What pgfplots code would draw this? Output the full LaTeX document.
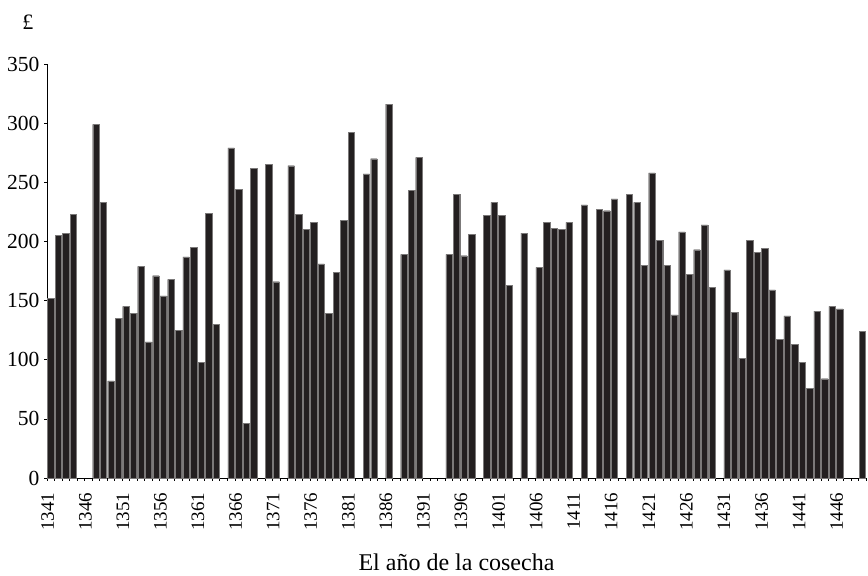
\documentclass[border=0pt]{standalone}
\usepackage{fontspec}
\setmainfont{Liberation Serif}
\usepackage{pgfplots}
\pgfplotsset{compat=1.18}
\definecolor{barc}{HTML}{231F20}
\begin{document}
\begin{tikzpicture}
\begin{axis}[
  scale only axis,
  width=819pt, height=414pt,
  xmin=1340.5, xmax=1449.5,
  ymin=0, ymax=350,
  axis lines=left,
  axis line style={-, line width=0.8pt, black},
  ytick={0,50,...,350},
  xtick={1341,1346,...,1446},
  minor xtick={1340.5,1341.5,...,1449.5},
  tick align=outside,
  tick style={black, line width=0.6pt},
  major tick length=3pt,
  minor tick length=3pt,
  major x tick style={draw=none},
  /pgf/number format/assume math mode=true,
  /pgf/number format/1000 sep={},
  yticklabel style={font=\fontsize{21.5}{21.5}\selectfont, xshift=-1pt},
  xticklabel style={rotate=90, anchor=east, font=\fontsize{19}{19}\selectfont, xshift=-8pt, yshift=3pt},
  xlabel={El año de la cosecha},
  xlabel style={font=\fontsize{24}{24}\selectfont, yshift=-16pt},
  clip=false,
]
\addplot[ybar, bar width=0.86, fill=barc, draw=barc!60, line width=0.2pt] coordinates {
(1341,152) (1342,205) (1343,207) (1344,223)
(1347,299) (1348,233) (1349,82) (1350,135) (1351,145) (1352,139) (1353,179) (1354,115)
(1355,171) (1356,154) (1357,168) (1358,125) (1359,187) (1360,195) (1361,98) (1362,224) (1363,130)
(1365,279) (1366,244) (1367,46) (1368,262) (1370,265) (1371,166)
(1373,264) (1374,223) (1375,210) (1376,216) (1377,181) (1378,139) (1379,174) (1380,218) (1381,292)
(1383,257) (1384,270) (1386,316) (1388,189) (1389,243) (1390,271)
(1394,189) (1395,240) (1396,188) (1397,206) (1399,222) (1400,233) (1401,222) (1402,163)
(1404,207) (1406,178) (1407,216) (1408,211) (1409,210) (1410,216) (1412,231)
(1414,227) (1415,226) (1416,236) (1418,240) (1419,233) (1420,180) (1421,258) (1422,201) (1423,180)
(1424,138) (1425,208) (1426,172) (1427,193) (1428,214) (1429,161)
(1431,176) (1432,140) (1433,101) (1434,201) (1435,191) (1436,194) (1437,159) (1438,117)
(1439,137) (1440,113) (1441,98) (1442,76) (1443,141) (1444,84) (1445,145) (1446,143)
(1449,124)
};
\end{axis}
\node[font=\fontsize{22}{22}\selectfont] at ([xshift=-19pt, yshift=42pt]current axis.north west) {£};
\pgfresetboundingbox
\path ([shift={(-47pt,-98pt)}]current axis.south west) rectangle ([shift={(2pt,64pt)}]current axis.north east);
\end{tikzpicture}
\end{document}
